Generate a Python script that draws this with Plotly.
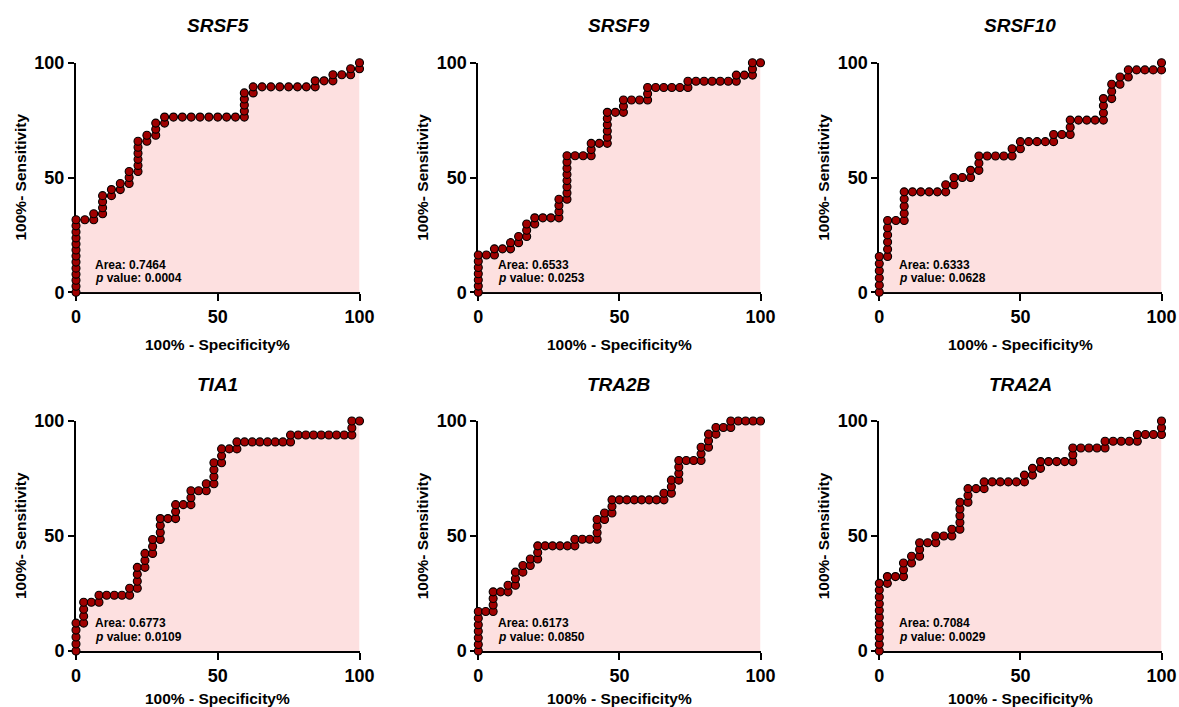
import plotly.graph_objects as go

# ---------------- data ----------------
genes = ["SRSF5", "SRSF9", "SRSF10", "TIA1", "TRA2B", "TRA2A"]
areas = ["0.7464", "0.6533", "0.6333", "0.6773", "0.6173", "0.7084"]
p_values = ["0.0004", "0.0253", "0.0628", "0.0109", "0.0850", "0.0029"]

# number of controls (x steps) and cases (y steps) per gene
n_neg = [32, 35, 34, 37, 38, 35]
n_pos = [38, 37, 32, 33, 35, 34]

# cumulative true positives reached at each false-positive count 0..n_neg
tp_srsf5 = [12, 12, 13, 16, 17, 18, 20, 25, 26, 28, 29, 29, 29, 29, 29, 29, 29, 29, 29,
            33, 34, 34, 34, 34, 34, 34, 34, 35, 35, 36, 36, 37, 38]
tp_srsf9 = [6, 6, 7, 7, 8, 9, 11, 12, 12, 12, 15, 22, 22, 22, 24, 24, 29, 29, 31, 31, 31,
            33, 33, 33, 33, 33, 34, 34, 34, 34, 34, 34, 35, 35, 37, 37]
tp_srsf10 = [5, 10, 10, 14, 14, 14, 14, 14, 15, 16, 16, 17, 19, 19, 19, 19, 20, 21, 21, 21,
             21, 22, 22, 24, 24, 24, 24, 27, 29, 30, 31, 31, 31, 31, 32]
tp_tia1 = [4, 7, 7, 8, 8, 8, 8, 9, 12, 14, 16, 19, 19, 21, 21, 23, 23, 24, 27, 29, 29,
           30, 30, 30, 30, 30, 30, 30, 31, 31, 31, 31, 31, 31, 31, 31, 33, 33]
tp_tra2b = [6, 6, 9, 9, 10, 12, 13, 14, 16, 16, 16, 16, 16, 17, 17, 17, 20, 21, 23, 23,
            23, 23, 23, 23, 23, 24, 26, 29, 29, 29, 31, 33, 34, 34, 35, 35, 35, 35, 35]
tp_tra2a = [10, 11, 11, 13, 14, 16, 16, 17, 17, 18, 22, 24, 24, 25, 25, 25, 25, 25, 26,
            27, 28, 28, 28, 28, 30, 30, 30, 30, 31, 31, 31, 31, 32, 32, 32, 34]
tp_lists = [tp_srsf5, tp_srsf9, tp_srsf10, tp_tia1, tp_tra2b, tp_tra2a]

x_ticks = [0, 50, 100]
y_ticks = [0, 50, 100]
x_title = "100% - Specificity%"
y_title = "100%- Sensitivity"

# ---------------- styling ----------------
W, H = 1179, 707
FONT = "Liberation Sans, Arial, Helvetica, sans-serif"
FILL = "#FDE0E0"
DOT = "#A00000"

# plot-area pixel boxes in the picture (left, right) / (top, bottom)
col_px = [(76, 359.5), (478.3, 760.5), (879.3, 1161.5)]
row_px = [(62.7, 292.3), (421, 651)]


def px_x(p):
    return p / W


def px_y(p):
    return 1 - p / H


def roc_points(tp, nneg, npos):
    xs, ys = [], []
    prev = 0
    for i, h in enumerate(tp):
        for k in range(prev, h + 1):
            xs.append(100.0 * i / nneg)
            ys.append(100.0 * k / npos)
        prev = h
    return xs, ys


fig = go.Figure()
annotations = []
layout = {}

for idx, gene in enumerate(genes):
    r, c = divmod(idx, 3)
    n = idx + 1
    xa = "x" if n == 1 else f"x{n}"
    ya = "y" if n == 1 else f"y{n}"
    xs, ys = roc_points(tp_lists[idx], n_neg[idx], n_pos[idx])
    fig.add_trace(go.Scatter(
        x=xs, y=ys, xaxis=xa, yaxis=ya, mode="lines+markers",
        line=dict(color=DOT, width=1),
        fill="tozeroy", fillcolor=FILL,
        marker=dict(size=8, color=DOT, line=dict(color="black", width=1.1)),
        cliponaxis=False, showlegend=False, hoverinfo="skip"))

    l, rr = col_px[c]
    t, b = row_px[r]
    xdom = [px_x(l), px_x(rr)]
    ydom = [px_y(b), px_y(t)]
    axkey_x = "xaxis" if n == 1 else f"xaxis{n}"
    axkey_y = "yaxis" if n == 1 else f"yaxis{n}"
    layout[axkey_x] = dict(
        domain=xdom, range=[0, 100], anchor=ya, showgrid=False, zeroline=False,
        showline=True, linecolor="black", linewidth=2, layer="below traces",
        ticks="outside", ticklen=7, tickwidth=2, tickcolor="black",
        tickvals=x_ticks, ticktext=[f"<b>{v}</b>" for v in x_ticks],
        tickfont=dict(family=FONT, size=18, color="black"), fixedrange=True,
        automargin=False)
    layout[axkey_y] = dict(
        domain=ydom, range=[0, 100], anchor=xa, showgrid=False, zeroline=False,
        showline=True, linecolor="black", linewidth=2, layer="below traces",
        ticks="outside", ticklen=6, tickwidth=2, tickcolor="black",
        tickvals=y_ticks, ticktext=[f"<b>{v}</b>" for v in y_ticks],
        tickfont=dict(family=FONT, size=18, color="black"), fixedrange=True,
        automargin=False)

    cx = px_x((l + rr) / 2)
    # panel title
    annotations.append(dict(
        text=f"<b><i>{gene}</i></b>", x=cx, y=px_y(25 if r == 0 else 384),
        xref="paper", yref="paper", xanchor="center", yanchor="middle",
        showarrow=False, font=dict(family=FONT, size=19, color="black")))
    # x-axis title
    annotations.append(dict(
        text=f"<b>{x_title}</b>", x=cx, y=px_y(min(b + 52, 698)),
        xref="paper", yref="paper", xanchor="center", yanchor="middle",
        showarrow=False, font=dict(family=FONT, size=15.5, color="black")))
    # y-axis title
    annotations.append(dict(
        text=f"<b>{y_title}</b>", x=px_x(l - 56), y=px_y((t + b) / 2),
        xref="paper", yref="paper", xanchor="center", yanchor="middle",
        textangle=-90, showarrow=False,
        font=dict(family=FONT, size=15.5, color="black")))
    # area / p value
    annotations.append(dict(
        text=f"<b>Area: {areas[idx]}</b>", x=0.061, y=0.12,
        xref=f"{xa} domain", yref=f"{ya} domain", xanchor="left", yanchor="middle",
        showarrow=False, font=dict(family=FONT, size=12, color="black")))
    annotations.append(dict(
        text=f"<b><i>p</i> value: {p_values[idx]}</b>", x=0.061, y=0.061,
        xref=f"{xa} domain", yref=f"{ya} domain", xanchor="left", yanchor="middle",
        showarrow=False, font=dict(family=FONT, size=12, color="black")))

fig.update_layout(
    template="none",
    width=W, height=H, margin=dict(l=0, r=0, t=0, b=0, pad=0, autoexpand=False),
    paper_bgcolor="white", plot_bgcolor="white",
    font=dict(family=FONT, color="black"),
    annotations=annotations, **layout)

fig.write_html(
    "out.html", config={"displayModeBar": False},
    post_script="document.body.style.margin='0';document.body.style.overflow='hidden';")
